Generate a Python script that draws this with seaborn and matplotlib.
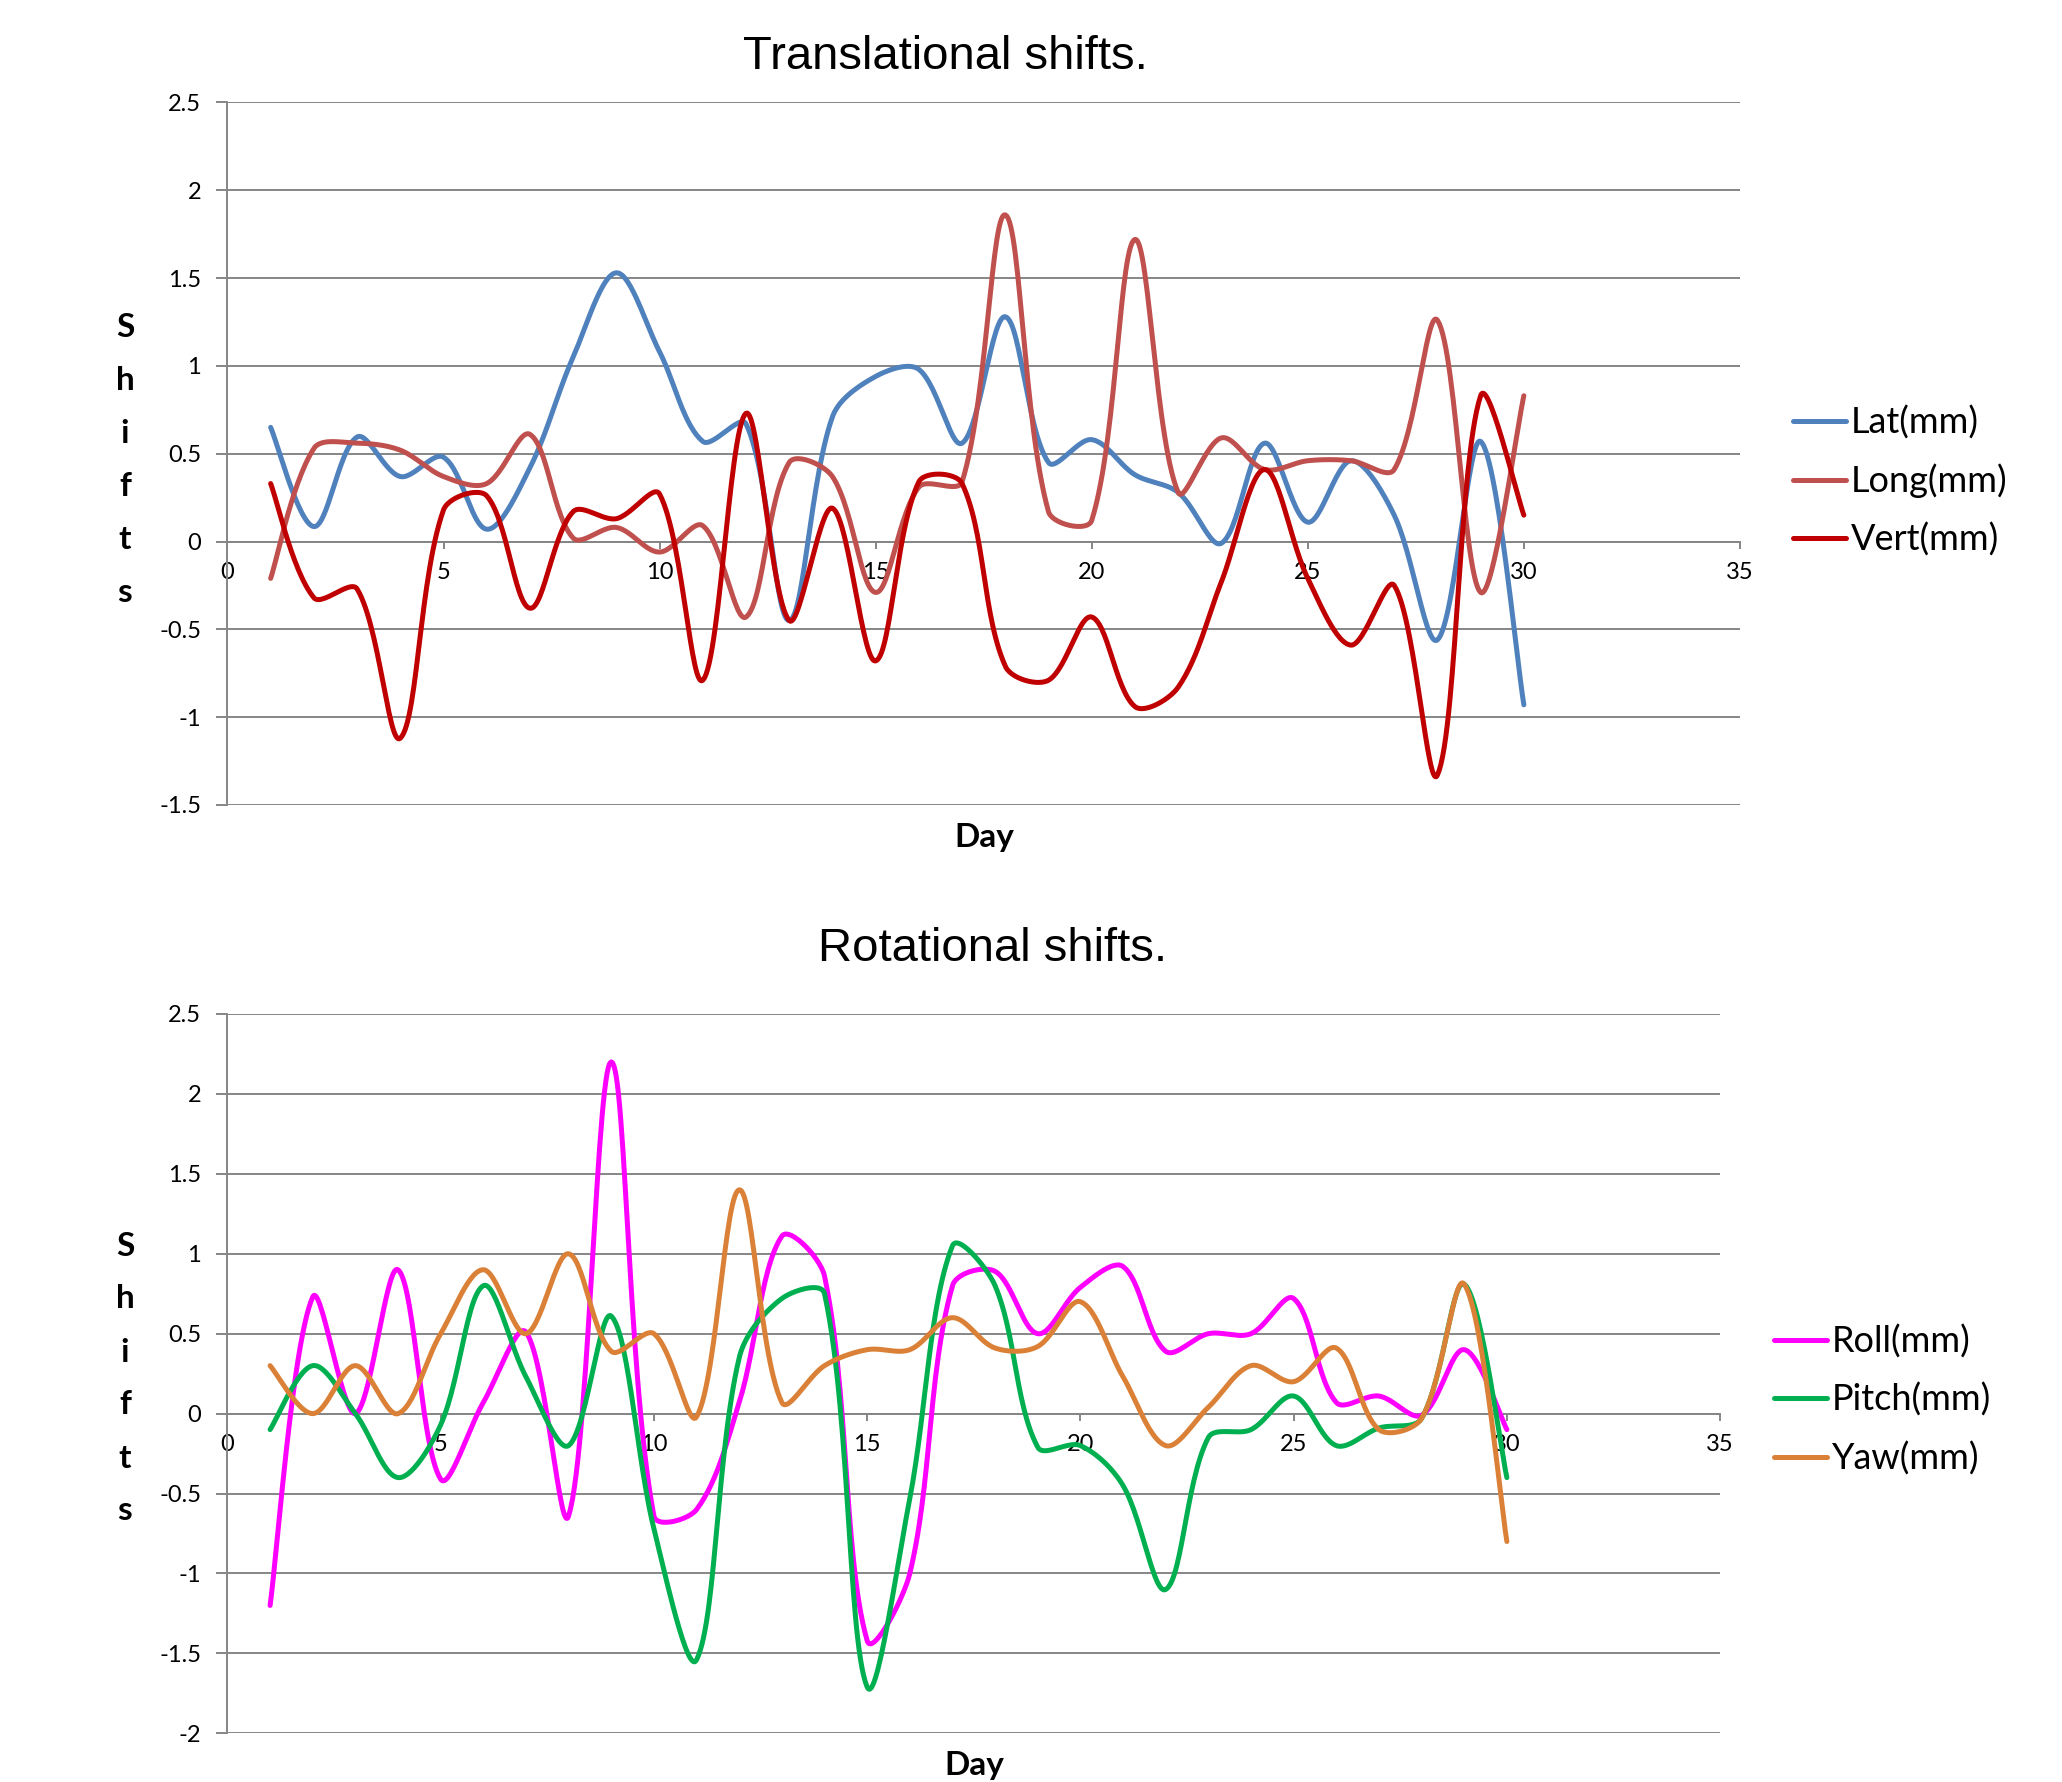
import numpy as np
import pandas as pd
import matplotlib
matplotlib.use("Agg")
import matplotlib.pyplot as plt
import seaborn as sns

# ------------------------------------------------------------------
# Data
# ------------------------------------------------------------------
days = list(range(1, 31))

lat_mm = [0.65, 0.085, 0.595, 0.37, 0.48, 0.07, 0.42, 1.05, 1.53, 1.08,
          0.57, 0.67, -0.45, 0.71, 0.94, 0.98, 0.56, 1.28, 0.45, 0.58,
          0.38, 0.28, -0.01, 0.56, 0.11, 0.46, 0.15, -0.56, 0.57, -0.93]
long_mm = [-0.21, 0.53, 0.56, 0.52, 0.37, 0.33, 0.61, 0.02, 0.08, -0.06,
           0.09, -0.43, 0.45, 0.37, -0.29, 0.31, 0.34, 1.86, 0.17, 0.12,
           1.72, 0.28, 0.59, 0.41, 0.46, 0.46, 0.41, 1.26, -0.29, 0.83]
vert_mm = [0.33, -0.32, -0.27, -1.12, 0.18, 0.26, -0.38, 0.17, 0.13, 0.27,
           -0.79, 0.73, -0.45, 0.19, -0.68, 0.34, 0.33, -0.71, -0.79, -0.43,
           -0.94, -0.83, -0.23, 0.41, -0.21, -0.59, -0.25, -1.33, 0.83, 0.15]

roll_mm = [-1.2, 0.73, 0.0, 0.9, -0.41, 0.07, 0.51, -0.64, 2.2, -0.64,
           -0.6, 0.07, 1.11, 0.86, -1.42, -1.0, 0.8, 0.89, 0.5, 0.79,
           0.92, 0.39, 0.5, 0.5, 0.72, 0.07, 0.11, -0.01, 0.4, -0.1]
pitch_mm = [-0.1, 0.3, 0.0, -0.4, -0.07, 0.8, 0.23, -0.2, 0.61, -0.72,
            -1.54, 0.35, 0.72, 0.75, -1.71, -0.53, 1.05, 0.8, -0.21, -0.2,
            -0.45, -1.1, -0.15, -0.1, 0.11, -0.2, -0.09, -0.03, 0.81, -0.4]
yaw_mm = [0.3, 0.0, 0.3, 0.0, 0.5, 0.9, 0.5, 1.0, 0.39, 0.5,
          -0.02, 1.4, 0.07, 0.3, 0.4, 0.4, 0.6, 0.41, 0.42, 0.7,
          0.23, -0.2, 0.04, 0.3, 0.2, 0.41, -0.1, -0.03, 0.81, -0.8]

trans_labels = ["Lat(mm)", "Long(mm)", "Vert(mm)"]
rot_labels = ["Roll(mm)", "Pitch(mm)", "Yaw(mm)"]

trans_colors = ["#4F81BD", "#C0504D", "#C00000"]
rot_colors = ["#FF00FF", "#00B050", "#DA8137"]
grey = "#868686"


def smooth(x, y, px_x, px_y, n=30):
    # Excel-like "smoothed line": cubic Bezier per segment, tangent from the
    # neighbours, handle length weighted by the on-screen segment lengths
    p = np.column_stack([np.asarray(x, float), np.asarray(y, float)])
    scr = p * [px_x, px_y]
    seg = np.hypot(*np.diff(scr, axis=0).T)
    m = len(p)
    out_c, in_c = [], []
    for i in range(m):
        a, b = max(i - 1, 0), min(i + 1, m - 1)
        tan = p[b] - p[a]
        d_prev = seg[i - 1] if i > 0 else 0.0
        d_next = seg[i] if i < m - 1 else 0.0
        tot = d_prev + d_next
        if i == 0 or i == m - 1:
            out_c.append(p[i] + tan / 6)
            in_c.append(p[i] - tan / 6)
        else:
            out_c.append(p[i] + tan * d_next / tot / 3)
            in_c.append(p[i] - tan * d_prev / tot / 3)
    t = np.linspace(0, 1, n, endpoint=False)[:, None]
    parts = []
    for i in range(m - 1):
        p1, c1, c2, p2 = p[i], out_c[i], in_c[i + 1], p[i + 1]
        parts.append((1 - t) ** 3 * p1 + 3 * (1 - t) ** 2 * t * c1
                     + 3 * (1 - t) * t ** 2 * c2 + t ** 3 * p2)
    parts.append(p[-1:])
    out = np.vstack(parts)
    return out[:, 0], out[:, 1]


sns.set_theme(style="white")
plt.rcParams["font.family"] = ["Lato", "DejaVu Sans"]
plt.rcParams["axes.unicode_minus"] = False
plt.rcParams["text.color"] = "black"

fig = plt.figure(figsize=(20.62, 17.82), dpi=100)
ax_t = fig.add_axes([0.1103, 0.5483, 0.7335, 0.3942])
ax_b = fig.add_axes([0.1103, 0.0273, 0.7239, 0.4037])


def draw(ax, series, labels, colors, px_x, px_y):
    for vals, lab, col in zip(series, labels, colors):
        sx, sy = smooth(days, vals, px_x, px_y)
        sns.lineplot(x=sx, y=sy, ax=ax, color=col, lw=3.6, label=lab,
                     sort=False, estimator=None, zorder=3)


def style(ax, ymin, ymax):
    ax.set_xlim(0, 35)
    ax.set_ylim(ymin, ymax)
    yt = np.arange(ymin, ymax + 0.01, 0.5)
    ax.set_yticks(yt)
    ax.set_yticklabels([f"{v:g}" for v in yt])
    ax.set_xticks(range(0, 36, 5))
    ax.set_xticklabels([str(v) for v in range(0, 36, 5)])
    ax.grid(axis="y", color=grey, lw=1.4)
    ax.grid(axis="x", visible=False)
    ax.set_axisbelow(True)
    ax.set_facecolor("white")
    for s in ["top", "right"]:
        ax.spines[s].set_visible(False)
    ax.spines["bottom"].set_position(("data", 0))
    for s in ["left", "bottom"]:
        ax.spines[s].set_color(grey)
        ax.spines[s].set_linewidth(1.4)
    ax.tick_params(axis="y", direction="out", length=8, width=1.4, color=grey,
                   pad=11, labelsize=17, labelcolor="black", left=True)
    ax.tick_params(axis="x", direction="out", length=5, width=1.4, color=grey,
                   pad=10, labelsize=17, labelcolor="black", bottom=True)
    ax.set_xlabel("")
    ax.set_ylabel("")


# pixels per data unit, used only to weight the smoothing handles
draw(ax_t, [lat_mm, long_mm, vert_mm], trans_labels, trans_colors, 43.2, 176)
draw(ax_b, [roll_mm, pitch_mm, yaw_mm], rot_labels, rot_colors, 42.6, 160)
style(ax_t, -1.5, 2.5)
style(ax_b, -2.0, 2.5)

leg_kw = dict(loc="center left", bbox_transform=fig.transFigure, frameon=False,
              fontsize=26, handlelength=1.47, handletextpad=0.14,
              labelspacing=0.68, borderpad=0, borderaxespad=0)
ax_t.legend(bbox_to_anchor=(0.8695, 0.730), **leg_kw)
ax_b.legend(bbox_to_anchor=(0.8603, 0.2144), **leg_kw)

# titles
fig.text(0.4583, 1 - 69 / 1782, "Translational shifts.", ha="center",
         va="baseline", fontsize=34, family=["Liberation Sans", "DejaVu Sans"])
fig.text(0.4816, 1 - 961 / 1782, "Rotational shifts.", ha="center",
         va="baseline", fontsize=34, family=["Liberation Sans", "DejaVu Sans"])

# x labels
fig.text(984 / 2062, 1 - 838 / 1782, "Day", ha="center", va="center",
         fontsize=24, fontweight="bold")
fig.text(974.5 / 2062, 1 - 1765 / 1782, "Day", ha="center", va="center",
         fontsize=24, fontweight="bold")

# stacked y labels
for y0 in [337, 1255.5]:
    for i, ch in enumerate("Shifts"):
        fig.text(125 / 2062, 1 - (y0 + i * 53) / 1782, ch, ha="center",
                 va="baseline", fontsize=24, fontweight="bold")

fig.savefig("out.png", dpi=100)
